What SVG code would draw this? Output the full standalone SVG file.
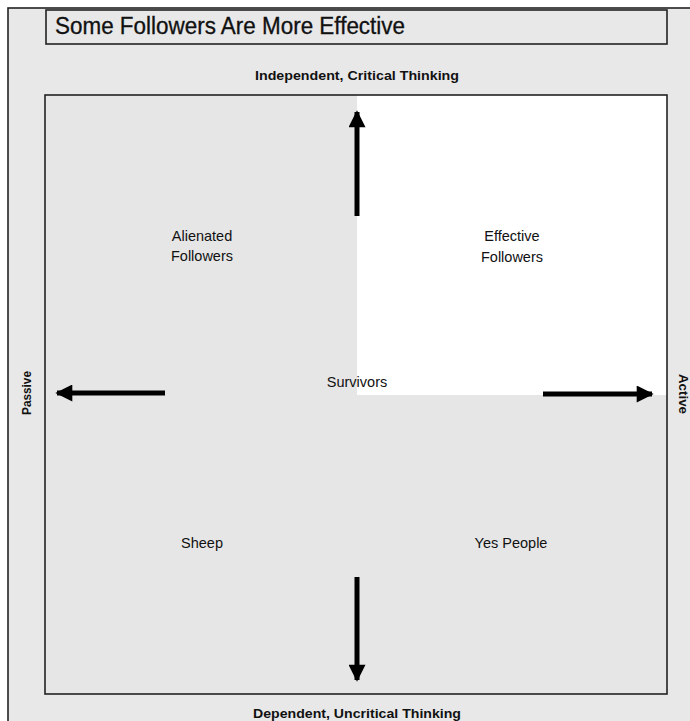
<svg xmlns="http://www.w3.org/2000/svg" width="690" height="721" viewBox="0 0 690 721">
<style>
.t{font-family:"Liberation Sans",Arial,sans-serif;fill:#111;}
.lab{font-size:14.5px;text-anchor:middle;}
.ax{font-size:13px;font-weight:bold;text-anchor:middle;}
.frame{fill:none;stroke:#222;stroke-width:1.6;}
.arr{stroke:#000;stroke-width:5;fill:none;}
</style>
<defs>
<marker id="ah" viewBox="0 0 10 10" refX="9" refY="5" markerWidth="3.8" markerHeight="3.4" orient="auto" markerUnits="strokeWidth">
<path d="M0,0 L10,5 L0,10 Z" fill="#000"/>
</marker>
</defs>
<rect x="0" y="0" width="690" height="721" fill="#fff"/>
<g id="outer">
<rect x="8" y="8" width="700" height="730" fill="#e8e8e8" stroke="#222" stroke-width="1.6"/>
</g>
<g id="title">
<rect x="46" y="10" width="621" height="34" fill="#e8e8e8" stroke="#222" stroke-width="1.6"/>
<text class="t" x="55" y="34" font-size="23" stroke="#111" stroke-width="0.3" textLength="350" lengthAdjust="spacingAndGlyphs">Some Followers Are More Effective</text>
</g>
<g id="axis-top"><text class="t ax" x="357" y="80" textLength="204" lengthAdjust="spacingAndGlyphs">Independent, Critical Thinking</text></g>
<g id="axis-bottom"><text class="t ax" x="357" y="718" textLength="208" lengthAdjust="spacingAndGlyphs">Dependent, Uncritical Thinking</text></g>
<g id="axis-left"><text class="t ax" transform="translate(31,393) rotate(-90)" textLength="44" lengthAdjust="spacingAndGlyphs">Passive</text></g>
<g id="axis-right"><text class="t ax" transform="translate(679,394) rotate(90)" textLength="40" lengthAdjust="spacingAndGlyphs">Active</text></g>
<g id="grid">
<rect x="45" y="95" width="622" height="599" fill="#e6e6e6"/>
<rect x="357" y="95" width="310" height="300" fill="#fff"/>
<rect x="45" y="95" width="622" height="599" class="frame"/>
</g>
<g id="q-alienated"><text class="t lab" x="202" y="241">Alienated</text><text class="t lab" x="202" y="261">Followers</text></g>
<g id="q-effective"><text class="t lab" x="512" y="241">Effective</text><text class="t lab" x="512" y="262">Followers</text></g>
<g id="q-survivors"><text class="t lab" x="357" y="387">Survivors</text></g>
<g id="q-sheep"><text class="t lab" x="202" y="548">Sheep</text></g>
<g id="q-yes"><text class="t lab" x="511" y="548">Yes People</text></g>
<g id="connectors">
<line class="arr" x1="357" y1="216" x2="357" y2="112" marker-end="url(#ah)"/>
<line class="arr" x1="357" y1="577" x2="357" y2="680" marker-end="url(#ah)"/>
<line class="arr" x1="165" y1="393" x2="57" y2="393" marker-end="url(#ah)"/>
<line class="arr" x1="543" y1="394" x2="652" y2="394" marker-end="url(#ah)"/>
</g>
</svg>
